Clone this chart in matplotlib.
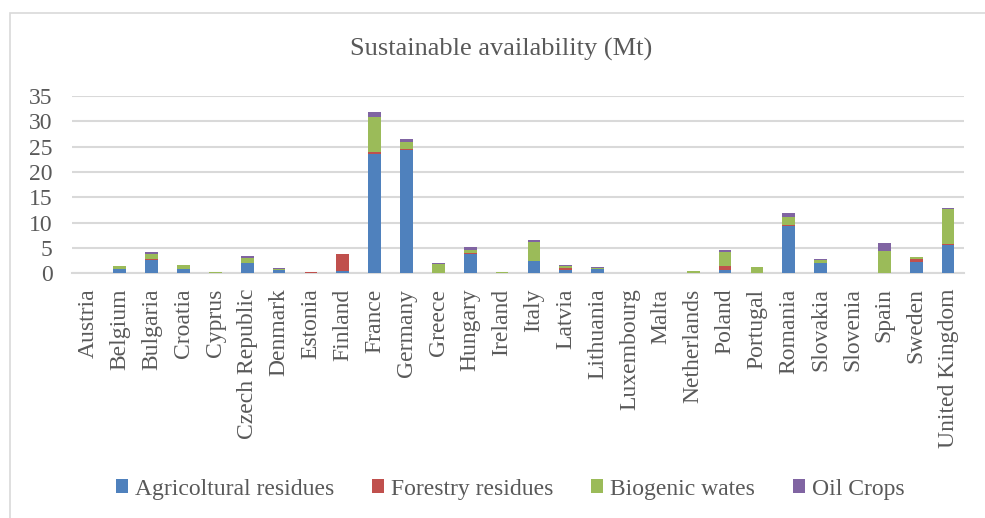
import matplotlib
matplotlib.use("Agg")
import matplotlib.pyplot as plt
import numpy as np
from matplotlib.patches import Rectangle, Patch

countries = ["Austria", "Belgium", "Bulgaria", "Croatia", "Cyprus", "Czech Republic",
             "Denmark", "Estonia", "Finland", "France", "Germany", "Greece", "Hungary",
             "Ireland", "Italy", "Latvia", "Lithuania", "Luxembourg", "Malta",
             "Netherlands", "Poland", "Portugal", "Romania", "Slovakia", "Slovenia",
             "Spain", "Sweden", "United Kingdom"]

agricultural = [0, 0.85, 2.7, 0.9, 0, 1.95, 0.75, 0, 0.4, 23.5, 24.3, 0, 3.85, 0,
                2.4, 0.7, 0.9, 0, 0, 0, 0.7, 0, 9.3, 2.0, 0, 0, 2.15, 5.6]
forestry = [0, 0, 0.1, 0, 0, 0.15, 0, 0.2, 3.35, 0.5, 0.25, 0, 0.15, 0,
            0.05, 0.4, 0, 0, 0, 0, 0.65, 0, 0.2, 0, 0, 0, 0.75, 0.1]
biogenic = [0, 0.6, 0.95, 0.7, 0.25, 1.0, 0.15, 0, 0.1, 6.8, 1.4, 1.85, 0.65, 0.25,
            3.75, 0.4, 0.2, 0, 0, 0.5, 2.9, 1.2, 1.6, 0.65, 0, 4.4, 0.3, 6.9]
oil_crops = [0, 0, 0.45, 0, 0, 0.3, 0.1, 0, 0, 1.0, 0.55, 0.15, 0.5, 0,
             0.45, 0.1, 0.05, 0, 0, 0, 0.35, 0, 0.75, 0.15, 0, 1.65, 0, 0.3]

series = [
    ("Agricoltural residues", agricultural, "#4F81BD"),
    ("Forestry residues", forestry, "#C0504D"),
    ("Biogenic wates", biogenic, "#9BBB59"),
    ("Oil Crops", oil_crops, "#8064A2"),
]

text_color = "#595959"
grid_color = "#D9D9D9"
font = "Liberation Serif"

fig = plt.figure(figsize=(9.85, 5.18), dpi=100)
# chart-area frame (left and top edges fall inside the canvas)
fig.patches.append(Rectangle((10 / 985, -0.05), 1.0, 1.05 - 13 / 518,
                             transform=fig.transFigure, fill=False,
                             edgecolor=grid_color, linewidth=1.2))

ax = fig.add_axes([72 / 985, 1 - 273.3 / 518, 892 / 985, 177.3 / 518])

x = np.arange(len(countries))
bottom = np.zeros(len(countries))
for name, vals, color in series:
    vals = np.array(vals, dtype=float)
    ax.bar(x, vals, width=0.4, bottom=bottom, color=color, label=name, zorder=3)
    bottom += vals

ax.set_xlim(-0.5, len(countries) - 0.5)
ax.set_ylim(0, 35)
ax.set_yticks(np.arange(0, 36, 5))
ax.yaxis.grid(True, color=grid_color, linewidth=1.5, zorder=0)
ax.set_axisbelow(True)
for side in ["top", "right", "left"]:
    ax.spines[side].set_visible(False)
ax.spines["bottom"].set_color(grid_color)
ax.spines["bottom"].set_linewidth(1.5)

ax.set_xticks(x)
ax.set_xticklabels(countries, rotation=90, fontsize=17, family=font, color=text_color)
ax.tick_params(axis="x", length=0, pad=11)
ax.tick_params(axis="y", length=0, pad=14, labelsize=17, labelcolor=text_color)
for lbl in ax.get_yticklabels():
    lbl.set_family(font)

fig.text(0.509, 1 - 49 / 518, "Sustainable availability (Mt)", ha="center", va="center",
         fontsize=19, family=font, color=text_color)

handles = [Patch(facecolor=c, edgecolor="none") for _, _, c in series]
labels = [n for n, _, _ in series]
leg = fig.legend(handles, labels, loc="center", bbox_to_anchor=(0.518, 1 - 489 / 518),
                 ncol=4, frameon=False, handlelength=0.5, handleheight=0.5,
                 handletextpad=0.3, columnspacing=1.6,
                 prop={"family": font, "size": 17})
for t in leg.get_texts():
    t.set_color(text_color)

fig.savefig("out.png", dpi=100)
